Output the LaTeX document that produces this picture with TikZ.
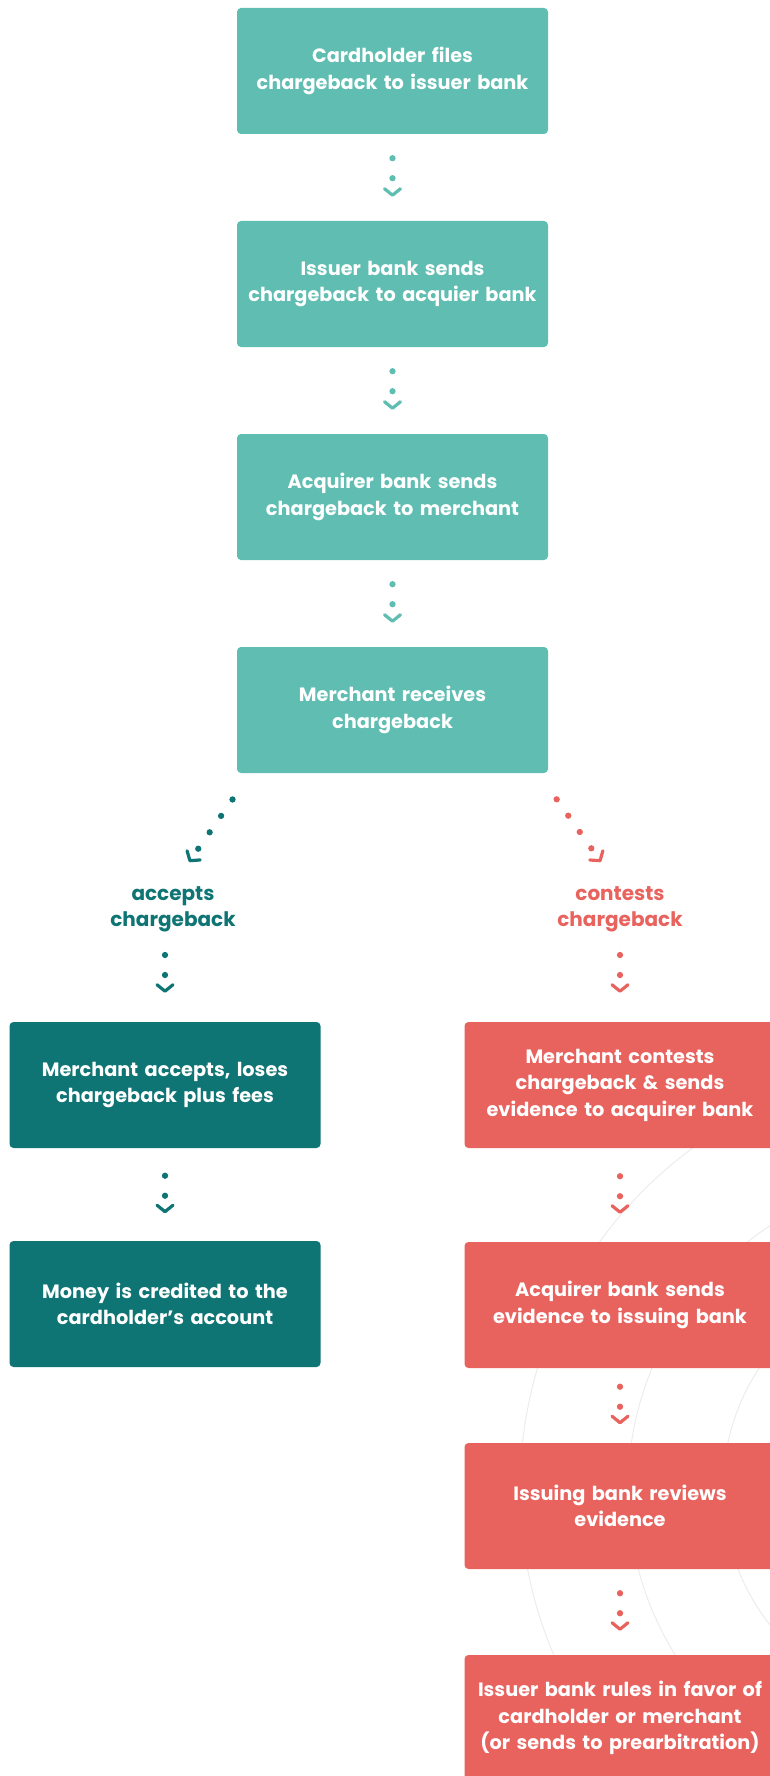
\documentclass[tikz,border=0pt]{standalone}
\usepackage{fontspec}
\setmainfont{Poppins}
\usepackage{tikz}
\usetikzlibrary{arrows.meta,positioning}

\definecolor{flowteal}{HTML}{5FBDB1}
\definecolor{flowdark}{HTML}{0F7474}
\definecolor{flowred}{HTML}{E8625E}
\definecolor{ringgray}{HTML}{ECECEC}

\newcommand{\boxfont}{\bfseries\fontsize{19.3}{26.5}\selectfont}
\newcommand{\branchfont}{\bfseries\fontsize{20}{26}\selectfont}

\tikzset{
  stepbox/.style={rectangle, rounded corners=4pt, minimum width=311pt, minimum height=126pt,
    text width=305pt, align=center, text=white, font=\boxfont, inner sep=0pt},
  dotlink/.style={line width=6.3pt, line cap=round, dash pattern=on 0pt off 20pt,
    -{Straight Barb[length=6.5pt, width=16pt, line width=3.2pt, round]}},
  gap/.style={shorten <=#1, shorten >=#1},
  ring/.style={draw=ringgray, line width=1pt},
}

\begin{document}
\begin{tikzpicture}[x=1pt, y=-1pt]
  \useasboundingbox (0,0) rectangle (770,1776);
  \clip (0,0) rectangle (770,1776);

  % faint rings behind the contest branch
  \foreach \r in {220,315,423}
    \draw[ring] (943,1489) circle[radius=\r pt];

  % common path
  \node[stepbox, fill=flowteal] (c1) at (392.5,71) {Cardholder files\\chargeback to issuer bank};
  \node[stepbox, fill=flowteal] (c2) at (392.5,284) {Issuer bank sends\\chargeback to acquier bank};
  \node[stepbox, fill=flowteal] (c3) at (392.5,497) {Acquirer bank sends\\chargeback to merchant};
  \node[stepbox, fill=flowteal] (c4) at (392.5,710) {Merchant receives\\chargeback};

  \draw[dotlink, flowteal, gap=24pt] (c1) -- (c2);
  \draw[dotlink, flowteal, gap=24pt] (c2) -- (c3);
  \draw[dotlink, flowteal, gap=24pt] (c3) -- (c4);

  % branch labels
  \node[font=\branchfont, text=flowdark, align=center] (acc) at (173,909) {accepts\\chargeback};
  \node[font=\branchfont, text=flowred, align=center] (con) at (620,909) {contests\\chargeback};

  \coordinate (acctip) at (189,862);
  \coordinate (contip) at (601,862);
  \draw[dotlink, flowdark, shorten <=32pt] ([xshift=14pt]c4.south west) -- (acctip);
  \draw[dotlink, flowred, shorten <=32pt] ([xshift=-10pt]c4.south east) -- (contip);

  % accept branch
  \node[stepbox, fill=flowdark] (lose) at (165,1085) {Merchant accepts, loses\\chargeback plus fees};
  \node[stepbox, fill=flowdark] (money) at (165,1304) {Money is credited to the\\cardholder’s account};

  \draw[dotlink, flowdark, shorten <=46pt, shorten >=29pt] (acc.center -| lose.north) -- (lose.north);
  \draw[dotlink, flowdark, gap=27.5pt] (lose) -- (money);

  % contest branch
  \node[stepbox, fill=flowred] (contest) at (620,1085) {Merchant contests\\chargeback \& sends\\evidence to acquirer bank};
  \node[stepbox, fill=flowred] (sendev) at (620,1305) {Acquirer bank sends\\evidence to issuing bank};
  \node[stepbox, fill=flowred] (review) at (620,1506) {Issuing bank reviews\\evidence};
  \node[stepbox, fill=flowred] (rules) at (620,1718) {Issuer bank rules in favor of\\cardholder or merchant\\(or sends to prearbitration)};

  \draw[dotlink, flowred, shorten <=46pt, shorten >=29pt] (con.center) -- (contest.north);
  \draw[dotlink, flowred, gap=28pt] (contest) -- (sendev);
  \draw[dotlink, flowred, gap=18.5pt] (sendev) -- (review);
  \draw[dotlink, flowred, gap=24pt] (review) -- (rules);
\end{tikzpicture}
\end{document}
